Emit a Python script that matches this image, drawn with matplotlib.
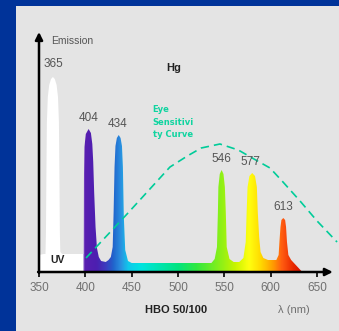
import matplotlib
matplotlib.use("Agg")
import matplotlib.pyplot as plt
import numpy as np
from matplotlib.colors import LinearSegmentedColormap
from matplotlib.patches import Polygon, Rectangle

# Hg lamp emission outline (wavelength nm, relative emission)
spec_nm = [350, 355, 357, 357.5, 358, 358.5, 359.5, 361, 363, 365, 367, 369, 370.5, 371.5, 372, 372.5, 373, 375,
           380, 390, 396, 397.8, 398, 398.4, 399, 400.5, 403.5, 406, 407.5, 408.5, 409.5, 411, 412.5, 414.5,
           417, 422, 425, 427.5, 429.5, 430.5, 431.5, 432.5, 434, 436, 438, 439.5, 440.5, 441.5, 443, 446,
           450, 480, 510, 536, 539.5, 542, 543, 543.5, 545, 547, 549, 550.5, 551.5, 552.5, 555.5, 560,
           566, 570.5, 573, 574, 575, 577, 580, 583, 585, 586, 587.5, 589, 592, 597, 602,
           606, 608.5, 609.5, 610.5, 611.5, 613.5, 615.5, 616.5, 617.5, 619, 622, 626, 630, 634]
spec_level = [17, 18, 18, 40, 100, 150, 175, 187, 193, 195, 193, 187, 175, 150, 100, 40, 20, 18,
              18, 18, 18, 18, 40, 90, 125, 138, 143, 139, 128, 110, 80, 45, 24, 15,
              11, 10, 12, 15, 25, 60, 105, 126, 134, 137, 134, 126, 105, 55, 22, 11,
              9, 9, 9, 9, 13, 25, 60, 85, 98, 102, 98, 85, 60, 25, 13, 10,
              10, 14, 30, 60, 85, 96, 99, 96, 85, 60, 35, 20, 14, 12, 12,
              12, 17, 32, 45, 52, 54, 52, 45, 30, 17, 12, 8, 4, 0]

# peak labels
peak_nm = [366, 403.6, 435, 547, 578.4, 613.5]
peak_top = [197, 143, 137, 102, 99, 54]
peak_labels = ["365", "404", "434", "546", "577", "613"]

# eye sensitivity curve
eye_nm = [400.7, 446, 491.3, 510, 525, 545.2, 565, 580, 599.2, 613.2, 631.6, 650, 671.5]
eye_level = [14, 59, 105, 116, 124, 128, 122, 114, 104, 90, 71, 51, 30]

xticks = [350, 400, 450, 500, 550, 600, 650]

# wavelength -> colour stops for the fill
color_nm = [350, 397.7, 397.8, 412, 422, 430, 438, 446, 460, 480, 500, 520, 546, 562, 577, 590, 602, 613, 625, 640]
color_hex = ['#ffffff', '#ffffff', '#5a1eb0', '#4c1fb0', '#3a3cc0', '#2064cc', '#2a90e0', '#10c8ec',
             '#00e4e0', '#00e4b0', '#00e480', '#30e840', '#8cf018', '#c8f400', '#ffff10', '#ffd800',
             '#ffa000', '#ff5a10', '#e82800', '#c80000']

fig = plt.figure(figsize=(3.39, 3.31), dpi=100, facecolor='#003399')
fig.patches.append(Rectangle((16 / 339, 0), 1, 325 / 331, transform=fig.transFigure,
                             facecolor='#e4e4e4', edgecolor='none', zorder=-10))

ax = fig.add_axes([39 / 339, 59 / 331, 300 / 339, 239 / 331])
ax.set_zorder(5)
ax.axis('off')

# spectrum filled with a wavelength gradient
lo, hi = color_nm[0], color_nm[-1]
cmap = LinearSegmentedColormap.from_list(
    'spec', [((w - lo) / (hi - lo), c) for w, c in zip(color_nm, color_hex)])
verts = list(zip(spec_nm, spec_level)) + [(spec_nm[-1], 0), (spec_nm[0], 0)]
poly = Polygon(verts, closed=True, facecolor='none', edgecolor='none')
ax.add_patch(poly)
grad = np.linspace(lo, hi, 800)[None, :]
im = ax.imshow(grad, extent=(lo, hi, 0, 239), aspect='auto', cmap=cmap,
               vmin=lo, vmax=hi, origin='lower', interpolation='bilinear')
im.set_clip_path(poly)
ax.set_xlim(350, 350 + 300 / 0.927)
ax.set_ylim(0, 239)

# eye sensitivity curve
ax.plot(eye_nm, eye_level, color='#00cc99', lw=1.2, linestyle=(0, (5, 3)), clip_on=False)

# axes arrows
arrow = dict(arrowstyle='-|>', color='black', lw=1.8, mutation_scale=11, shrinkA=0, shrinkB=0)
ax.annotate('', xy=(667, 0), xytext=(349, 0), arrowprops=arrow, annotation_clip=False)
ax.annotate('', xy=(350, 240), xytext=(350, -1), arrowprops=arrow, annotation_clip=False)

ax.vlines(xticks, -5, 0, color='black', lw=1.2, clip_on=False)
for t in xticks:
    ax.text(t, -16, str(t), ha='center', va='center', fontsize=8.5, color='#707070',
            family='Liberation Sans', clip_on=False)

for x, h, s in zip(peak_nm, peak_top, peak_labels):
    ax.annotate(s, (x, h), xytext=(0, 11), textcoords='offset pixels', ha='center', va='center',
                fontsize=8.5, color='#555555', family='Liberation Sans')

ax.text(363, 231, 'Emission', ha='left', va='center', fontsize=7.5, color='#555555',
        family='Liberation Sans')
ax.text(495.6, 204, 'Hg', ha='center', va='center', fontsize=8, fontweight='bold', color='#222222',
        family='Liberation Sans')
ax.text(472.6, 167, 'Eye\nSensitivi\nty Curve', ha='left', va='top', fontsize=6,
        fontweight='bold', color='#10d4a0', linespacing=1.5)
ax.text(370.5, 12, 'UV', ha='center', va='center', fontsize=7.5, fontweight='bold', color='#222222',
        family='Liberation Sans')
ax.text(498.3, -38, 'HBO 50/100', ha='center', va='center', fontsize=8, fontweight='bold',
        color='#222222', family='Liberation Sans', clip_on=False)
ax.text(625, -38, 'λ (nm)', ha='center', va='center', fontsize=8, color='#707070',
        family='Liberation Sans', clip_on=False)

fig.savefig('out.png', dpi=100, facecolor=fig.get_facecolor())
